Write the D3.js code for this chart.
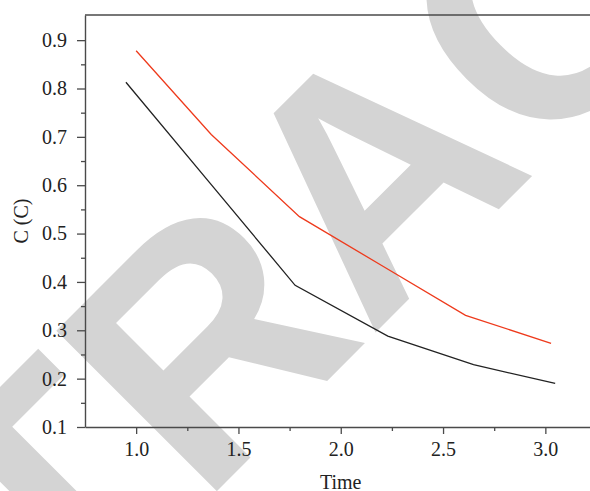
<!DOCTYPE html>
<html>
<head>
<meta charset="utf-8">
<script src="https://cdn.jsdelivr.net/npm/d3@7"></script>
<style>
  body { margin: 0; background: #fff; }
  svg { display: block; }
</style>
</head>
<body>
<div id="chart"></div>
<script>
// values
const blackTime = [0.95, 1.36, 1.777, 2.23, 2.649, 3.048];
const blackC    = [0.813, 0.605, 0.393, 0.288, 0.229, 0.19];
const redTime   = [1.0, 1.367, 1.798, 2.2, 2.61, 3.028];
const redC      = [0.878, 0.705, 0.535, 0.434, 0.331, 0.273];
const xTicks = [1.0, 1.5, 2.0, 2.5, 3.0];
const yTicks = [0.1, 0.2, 0.3, 0.4, 0.5, 0.6, 0.7, 0.8, 0.9];
const watermark = 'RETRACTED';

const width = 590, height = 491;
const margin = {top: 15, left: 85, bottom: 64};

const svg = d3.select('#chart').append('svg').attr('width', width).attr('height', height);

// watermark sits under everything
svg.append('text')
  .attr('transform', 'translate(370,170) rotate(-45)')
  .attr('text-anchor', 'middle')
  .attr('dy', '0.36em')
  .attr('font-family', "'Liberation Sans', Arial, sans-serif")
  .attr('font-weight', 'bold')
  .attr('font-size', 330)
  .attr('fill', '#d4d4d4')
  .text(watermark);

let x = d3.scaleLinear().domain([0.75, 3.25]).range([margin.left, margin.left + 511.5]);
let y = d3.scaleLinear().domain([0.1, 0.952]).range([height - margin.bottom, margin.top]);

const axisColor = '#4a4a4a';
const font = "'Liberation Serif', 'Times New Roman', serif";
const fs = 20;

// minor ticks first
svg.append('g').attr('transform', `translate(0,${y(0.1)})`)
  .call(d3.axisBottom(x).tickValues(d3.range(1.25, 3.3, 0.5)).tickSize(4).tickFormat(''))
  .call(g => g.select('.domain').remove());
svg.append('g').attr('transform', `translate(${x(0.75)},0)`)
  .call(d3.axisLeft(y).tickValues(d3.range(0.15, 0.95, 0.1)).tickSize(4).tickFormat(''))
  .call(g => g.select('.domain').remove());

let xAxis = svg.append('g').attr('transform', `translate(0,${y(0.1)})`)
  .call(d3.axisBottom(x).tickValues(xTicks).tickSize(7).tickSizeOuter(0).tickPadding(8).tickFormat(d3.format('.1f')));
let yAxis = svg.append('g').attr('transform', `translate(${x(0.75)},0)`)
  .call(d3.axisLeft(y).tickValues(yTicks).tickSize(8).tickSizeOuter(0).tickPadding(10).tickFormat(d3.format('.1f')));

// top and right frame
svg.append('line').attr('x1', x(0.75)).attr('x2', x(3.25)).attr('y1', y(0.952)).attr('y2', y(0.952));
svg.append('line').attr('x1', x(3.25)).attr('x2', x(3.25)).attr('y1', y(0.952)).attr('y2', y(0.1));
svg.selectAll('line').attr('stroke', axisColor).attr('stroke-width', 1.3);
svg.selectAll('.domain').attr('stroke', axisColor).attr('stroke-width', 1.4);
svg.selectAll('.tick text').attr('font-family', font).attr('font-size', fs).attr('fill', '#222');

svg.append('text').attr('x', x(2.0)).attr('y', 489).attr('text-anchor', 'middle')
  .attr('font-family', font).attr('font-size', fs).attr('fill', '#222').text('Time');
svg.append('text').attr('transform', `translate(28,${(y(0.1) + y(0.952)) / 2}) rotate(-90)`)
  .attr('text-anchor', 'middle')
  .attr('font-family', font).attr('font-size', fs).attr('fill', '#222').text('C (C)');

let line = d3.line().x(d => x(d[0])).y(d => y(d[1]));

svg.append('path').attr('fill', 'none').attr('stroke', '#222').attr('stroke-width', 1.3)
  .attr('d', line(d3.zip(blackTime, blackC)));
svg.append('path').attr('fill', 'none').attr('stroke', '#ee3a1c').attr('stroke-width', 1.3)
  .attr('d', line(d3.zip(redTime, redC)));
</script>
</body>
</html>
